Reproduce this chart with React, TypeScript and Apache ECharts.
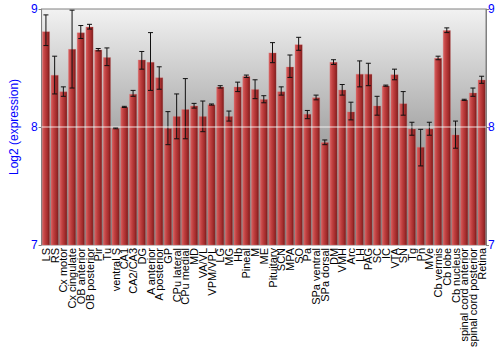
import React, { useEffect, useRef } from "react";
import * as echarts from "echarts";

const categories: string[] = [
  "LS", "RS", "Cx motor", "Cx cingulate", "OB anterior", "OB posterior", "Pir", "Tu",
  "ventral S", "CA1", "CA2/CA3", "DG", "A anterior", "A posterior", "GP", "CPu lateral",
  "CPu medial", "MD", "VA/VL", "VPM/VPL", "LG", "MG", "Hb", "Pineal", "M", "ME",
  "Pituitary", "SCN", "MPA", "SO", "Pa", "SPa ventral", "SPa dorsal", "DM", "VMH", "Arc",
  "LH", "PAG", "SC", "IC", "VTA", "SN", "Tg", "Pn", "MVe", "Cb vermis", "Cb lobe",
  "Cb nucleus", "spinal cord anterior", "spinal cord posterior", "Retina",
];

const values: number[] = [
  8.81, 8.44, 8.30, 8.66, 8.80, 8.85, 8.655, 8.59,
  7.99, 8.17, 8.28, 8.57, 8.55, 8.42, 7.99, 8.09,
  8.15, 8.18, 8.09, 8.19, 8.34, 8.09, 8.34, 8.43, 8.32, 8.235,
  8.63, 8.30, 8.51, 8.70, 8.11, 8.25, 7.87, 8.55, 8.315, 8.13,
  8.45, 8.45, 8.18, 8.35, 8.445, 8.20, 7.985, 7.83, 7.985, 8.585, 8.82,
  7.935, 8.23, 8.29, 8.40,
];

const errLow: number[] = [
  8.69, 8.28, 8.26, 8.33, 8.75, 8.83, 8.645, 8.52,
  7.985, 8.165, 8.26, 8.49, 8.31, 8.32, 7.85, 7.90,
  7.90, 8.16, 7.96, 8.185, 8.33, 8.05, 8.30, 8.42, 8.24, 8.205,
  8.545, 8.27, 8.42, 8.65, 8.07, 8.23, 7.85, 8.53, 8.27, 8.06,
  8.34, 8.35, 8.10, 8.345, 8.40, 8.10, 7.93, 7.67, 7.93, 8.57, 8.80,
  7.82, 8.225, 8.26, 8.37,
];

const errHigh: number[] = [
  8.95, 8.60, 8.34, 8.99, 8.86, 8.87, 8.665, 8.67,
  7.995, 8.175, 8.31, 8.64, 8.80, 8.51, 8.13, 8.28,
  8.41, 8.20, 8.22, 8.195, 8.35, 8.135, 8.38, 8.44, 8.40, 8.265,
  8.715, 8.34, 8.61, 8.76, 8.14, 8.27, 7.89, 8.57, 8.36, 8.21,
  8.56, 8.54, 8.26, 8.355, 8.49, 8.30, 8.04, 7.98, 8.04, 8.60, 8.84,
  8.05, 8.235, 8.33, 8.43,
];

const yTicks = { min: 7, max: 9, interval: 1 };
const yName = "Log2 (expression)";

const FONT = "Liberation Sans, Arial, Helvetica, sans-serif";
const BLUE = "#0000ff";

export default function App() {
  const ref = useRef<HTMLDivElement>(null);

  useEffect(() => {
    if (!ref.current) return;
    const chart = echarts.init(ref.current, undefined, { renderer: "svg" });

    const barGradient = new echarts.graphic.LinearGradient(0, 0, 1, 0, [
      { offset: 0, color: "#d86060" },
      { offset: 0.35, color: "#c04040" },
      { offset: 0.75, color: "#a02a2a" },
      { offset: 1, color: "#701818" },
    ]);

    const bgGradient = new echarts.graphic.LinearGradient(0, 0, 0, 1, [
      { offset: 0, color: "#f2f2f2" },
      { offset: 0.5, color: "#ababab" },
      { offset: 1, color: "#7a7a7a" },
    ]);

    const errData = categories.map((_, i) => [i, errLow[i], errHigh[i]]);

    const option: any = {
      animation: false,
      backgroundColor: "#ffffff",
      textStyle: { fontFamily: FONT },
      grid: {
        left: 28,
        right: 14,
        top: 9,
        bottom: 100,
        show: true,
        backgroundColor: bgGradient,
        borderColor: "#808080",
        borderWidth: 1,
      },
      xAxis: {
        type: "category",
        data: categories,
        axisLine: { show: false },
        axisTick: { show: false },
        axisLabel: {
          interval: 0,
          rotate: 90,
          fontSize: 11,
          color: "#000000",
          fontFamily: FONT,
          margin: 3,
        },
      },
      yAxis: [
        {
          type: "value",
          min: yTicks.min,
          max: yTicks.max,
          interval: yTicks.interval,
          position: "left",
          name: yName,
          nameLocation: "middle",
          nameGap: 14,
          nameTextStyle: { color: BLUE, fontSize: 12, fontFamily: FONT },
          axisLine: { show: true, lineStyle: { color: "#808080" } },
          axisTick: { show: true, length: 3, lineStyle: { color: "#808080" } },
          axisLabel: { color: BLUE, fontSize: 12, fontFamily: FONT, margin: 4 },
          splitLine: { show: false },
        },
        {
          type: "value",
          min: yTicks.min,
          max: yTicks.max,
          interval: yTicks.interval,
          position: "right",
          axisLine: { show: true, lineStyle: { color: "#808080" } },
          axisTick: { show: true, length: 3, lineStyle: { color: "#808080" } },
          axisLabel: { color: BLUE, fontSize: 12, fontFamily: FONT, margin: 2 },
          splitLine: { show: false },
        },
      ],
      series: [
        {
          type: "bar",
          data: values,
          barCategoryGap: "11%",
          itemStyle: {
            color: barGradient,
            borderColor: "rgba(220,120,120,0.6)",
            borderWidth: 0.5,
          },
          markLine: {
            silent: true,
            symbol: "none",
            label: { show: false },
            lineStyle: { color: "rgba(255,255,255,0.55)", width: 1.5, type: "solid" },
            data: [{ yAxis: 8 }],
            z: 10,
          },
        },
        {
          type: "custom",
          z: 5,
          data: errData,
          renderItem: (params: any, api: any) => {
            const x = api.value(0);
            const lo = api.coord([x, api.value(1)]);
            const hi = api.coord([x, api.value(2)]);
            const cap = 2.5;
            const style = { stroke: "#111111", lineWidth: 1 };
            return {
              type: "group",
              children: [
                { type: "line", shape: { x1: lo[0], y1: lo[1], x2: hi[0], y2: hi[1] }, style },
                { type: "line", shape: { x1: lo[0] - cap, y1: lo[1], x2: lo[0] + cap, y2: lo[1] }, style },
                { type: "line", shape: { x1: hi[0] - cap, y1: hi[1], x2: hi[0] + cap, y2: hi[1] }, style },
              ],
            };
          },
        },
      ],
    };

    chart.setOption(option);
    return () => chart.dispose();
  }, []);

  return <div ref={ref} style={{ width: 500, height: 350, position: "absolute", left: 0, top: 0 }} />;
}
